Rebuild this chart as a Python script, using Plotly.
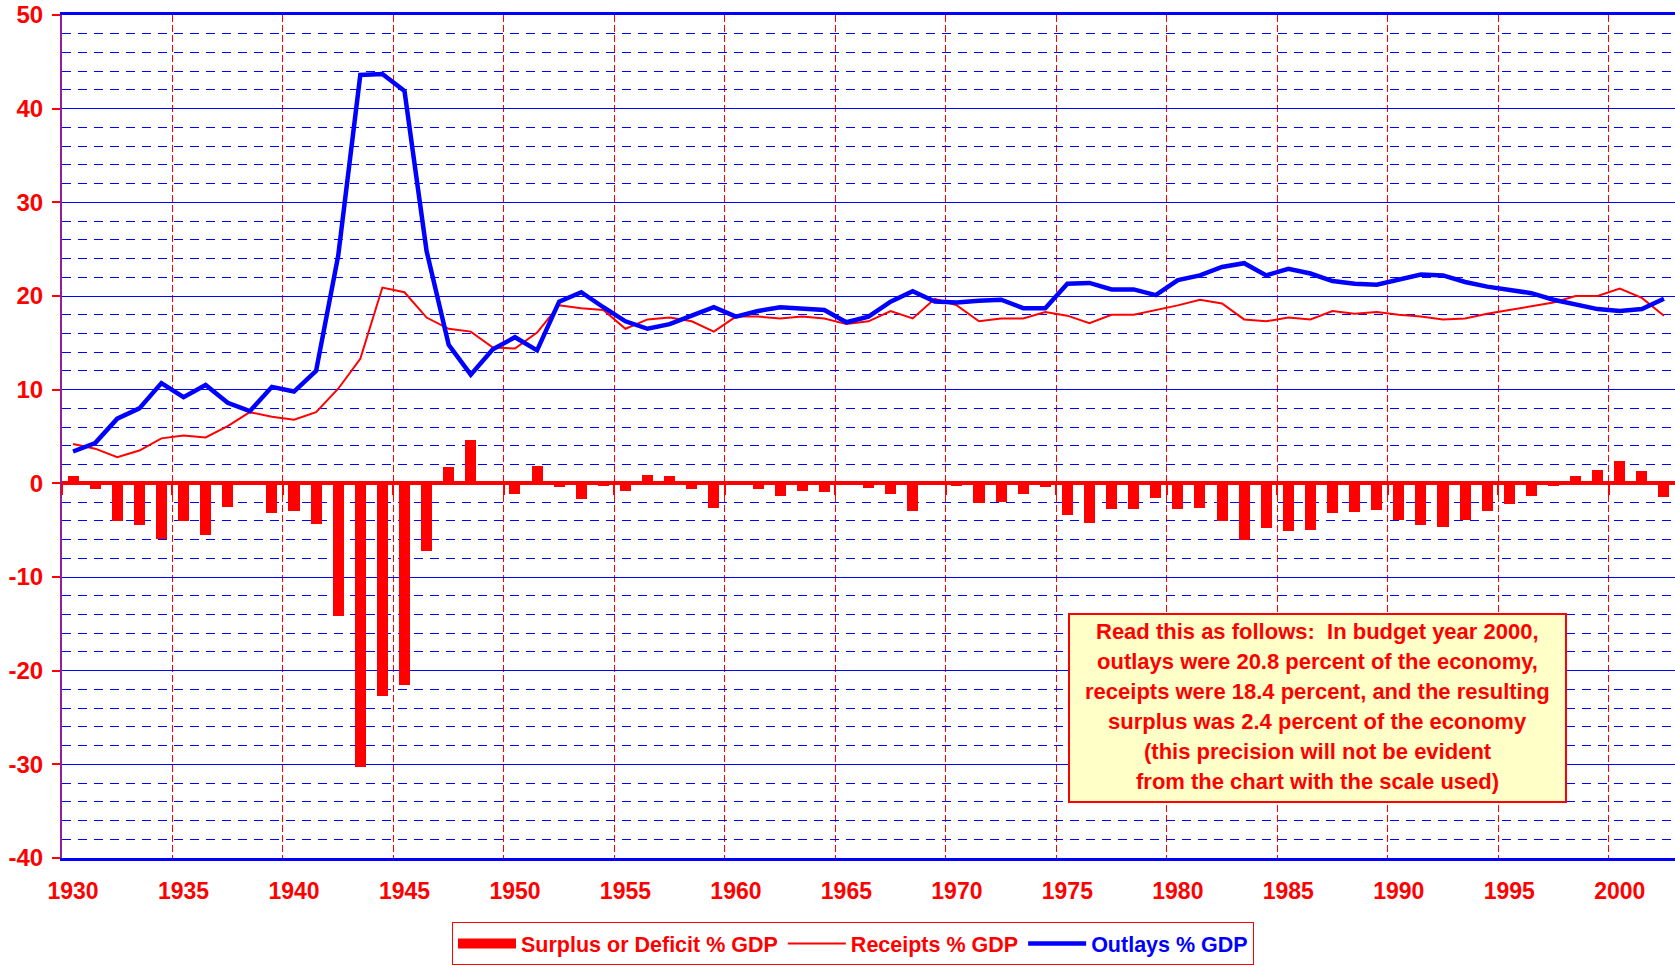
import plotly.graph_objects as go

# ---------------- data (percent of GDP, fiscal years) ----------------
years = list(range(1930, 2003))

receipts = [4.2, 3.7, 2.8, 3.5, 4.8, 5.1, 4.9, 6.1, 7.6, 7.1,
            6.8, 7.6, 10.1, 13.3, 20.9, 20.4, 17.7, 16.5, 16.2, 14.5,
            14.4, 16.1, 19.0, 18.7, 18.5, 16.5, 17.5, 17.7, 17.3, 16.2,
            17.8, 17.8, 17.6, 17.8, 17.6, 17.0, 17.3, 18.4, 17.6, 19.7,
            19.0, 17.3, 17.6, 17.6, 18.3, 17.9, 17.1, 18.0, 18.0, 18.5,
            19.0, 19.6, 19.2, 17.5, 17.3, 17.7, 17.5, 18.4, 18.1, 18.3,
            18.0, 17.8, 17.5, 17.6, 18.1, 18.5, 18.9, 19.3, 20.0, 20.0,
            20.8, 19.8, 17.9]

outlays = [3.4, 4.3, 6.9, 8.0, 10.7, 9.2, 10.5, 8.6, 7.7, 10.3,
           9.8, 12.0, 24.3, 43.6, 43.7, 41.9, 24.8, 14.8, 11.6, 14.3,
           15.6, 14.2, 19.4, 20.4, 18.8, 17.3, 16.5, 17.0, 17.9, 18.8,
           17.8, 18.4, 18.8, 18.6, 18.5, 17.2, 17.8, 19.4, 20.5, 19.4,
           19.3, 19.5, 19.6, 18.7, 18.7, 21.3, 21.4, 20.7, 20.7, 20.1,
           21.7, 22.2, 23.1, 23.5, 22.2, 22.9, 22.4, 21.6, 21.3, 21.2,
           21.8, 22.3, 22.2, 21.5, 21.0, 20.7, 20.3, 19.6, 19.1, 18.6,
           18.4, 18.6, 19.7]

surplus = [0.8, -0.6, -4.0, -4.5, -5.9, -4.0, -5.5, -2.5, -0.1, -3.2,
           -3.0, -4.3, -14.2, -30.3, -22.7, -21.5, -7.2, 1.7, 4.6, 0.2,
           -1.1, 1.9, -0.4, -1.7, -0.3, -0.8, 0.9, 0.8, -0.6, -2.6,
           0.1, -0.6, -1.3, -0.8, -0.9, -0.2, -0.5, -1.1, -2.9, 0.3,
           -0.3, -2.1, -2.0, -1.1, -0.4, -3.4, -4.2, -2.7, -2.7, -1.6,
           -2.7, -2.6, -4.0, -6.0, -4.8, -5.1, -5.0, -3.2, -3.1, -2.8,
           -3.9, -4.5, -4.7, -3.9, -2.9, -2.2, -1.4, -0.3, 0.8, 1.4,
           2.4, 1.3, -1.5]

x_labels = list(range(1930, 2001, 5))
x_separators = [y - 0.5 for y in range(1935, 2001, 5)]
zero_ticks = [y - 0.5 for y in range(1930, 2001, 5)]
y_ticks = list(range(-40, 51, 10))

note_lines = [
    "Read this as follows:  In budget year 2000,",
    "outlays were 20.8 percent of the economy,",
    "receipts were 18.4 percent, and the resulting",
    "surplus was 2.4 percent of the economy",
    "(this precision will not be evident",
    "from the chart with the scale used)",
]

# ---------------- layout geometry ----------------
W, H = 1675, 965
ML, MR, MT, MB = 62, 0, 15, 107
PW, PH = W - ML - MR, H - MT - MB


def px_x(p):  # page pixel -> paper x
    return (p - ML) / PW


def px_y(p):  # page pixel -> paper y
    return (H - MB - p) / PH


FONT = "Liberation Sans, Arial, sans-serif"
RED = "#FF0000"
BLUE = "#0000FF"

fig = go.Figure()

fig.add_trace(go.Bar(
    x=years, y=surplus, width=0.5, marker=dict(color=RED, line=dict(width=0)),
    name="Surplus or Deficit % GDP", showlegend=False,
))
# legend swatch for the bar series (wide block like the original)
fig.add_trace(go.Scatter(
    x=[None], y=[None], mode="lines", line=dict(color=RED, width=17),
    name="<b>Surplus or Deficit % GDP</b>", showlegend=True,
))
fig.add_trace(go.Scatter(
    x=years, y=receipts, mode="lines", line=dict(color=RED, width=2),
    name="<b>Receipts % GDP</b>",
))
fig.add_trace(go.Scatter(
    x=years, y=outlays, mode="lines", line=dict(color=BLUE, width=4.5),
    name="<b><span style='color:#0000FF'>Outlays % GDP</span></b>",
))
# helper trace so the zero-crossing category axis is drawn
fig.add_trace(go.Scatter(
    x=[None], y=[None], xaxis="x2", showlegend=False, hoverinfo="skip",
))

fig.update_layout(
    width=W, height=H,
    margin=dict(l=ML, r=MR, t=MT, b=MB),
    paper_bgcolor="white", plot_bgcolor="white",
    font=dict(family=FONT, color=RED),
    bargap=0,
    xaxis=dict(
        range=[1929.5, 2002.5],
        tickmode="array", tickvals=x_labels, ticktext=[str(v) for v in x_labels],
        ticks="", showgrid=False, zeroline=False,
        tickfont=dict(family=FONT, size=23, color=RED, weight="bold"),
        ticklabelstandoff=11,
        showline=True, linecolor=BLUE, linewidth=2.5, mirror=True,
        minor=dict(tickmode="array", tickvals=x_separators, showgrid=True,
                   gridcolor=RED, gridwidth=1.2, griddash="7px,3px", ticks=""),
    ),
    xaxis2=dict(
        overlaying="x", anchor="free", position=40 / 90, side="bottom",
        range=[1929.5, 2002.5],
        tickmode="array", tickvals=zero_ticks, showticklabels=False,
        ticks="outside", ticklen=10, tickwidth=2, tickcolor=RED,
        showgrid=False, zeroline=False,
        showline=True, linecolor=RED, linewidth=3.5,
    ),
    yaxis=dict(
        range=[-40, 50],
        tickmode="array", tickvals=y_ticks, ticktext=[str(v) for v in y_ticks],
        ticks="outside", ticklen=8, tickwidth=2, tickcolor=RED,
        tickfont=dict(family=FONT, size=24, color=RED, weight="bold"),
        ticklabelstandoff=4, ticklabeloverflow="allow",
        showgrid=True, gridcolor=BLUE, gridwidth=1,
        zeroline=False,
        showline=True, linecolor="#9020A0", linewidth=2,
        minor=dict(dtick=2, showgrid=True, gridcolor=BLUE, gridwidth=1,
                   griddash="9px,7px", ticks=""),
    ),
    legend=dict(
        orientation="h", x=px_x(452), y=px_y(922), xanchor="left", yanchor="top",
        bgcolor="white", bordercolor=RED, borderwidth=1,
        font=dict(family=FONT, size=21.5, color=RED),
        itemwidth=58, tracegroupgap=0,
    ),
    showlegend=True,
)

# explanatory note box
fig.add_shape(
    type="rect", xref="paper", yref="paper",
    x0=px_x(1069), x1=px_x(1566), y0=px_y(802), y1=px_y(614),
    fillcolor="#FFFFC8", line=dict(color=RED, width=2), layer="above",
)
for i, line in enumerate(note_lines):
    fig.add_annotation(
        xref="paper", yref="paper", x=px_x(1317.5), y=px_y(631.7 + 30 * i),
        text=line, showarrow=False, xanchor="center", yanchor="middle",
        font=dict(family=FONT, size=22, color=RED, weight="bold"),
    )

fig.write_html("out.html", config={"displayModeBar": False},
               post_script="document.body.style.margin='0';")
